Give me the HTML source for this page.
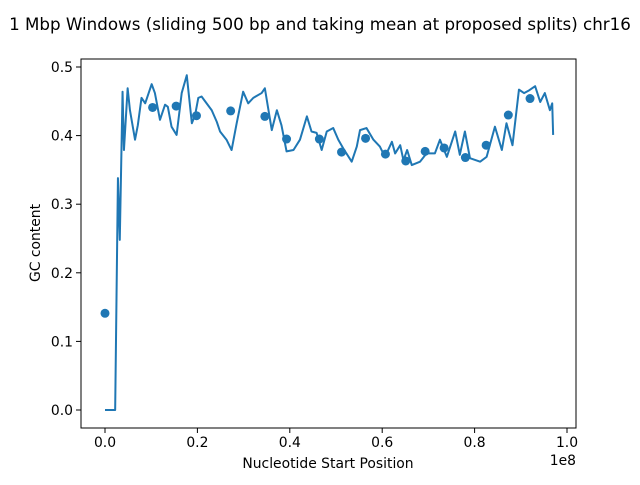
<!DOCTYPE html>
<html><head><meta charset="utf-8"><style>
body{margin:0;background:#fff;font-family:"Liberation Sans","DejaVu Sans",sans-serif}
text{font-family:"DejaVu Sans","Liberation Sans",sans-serif}
</style></head><body>
<svg id="chart" width="640" height="480" viewBox="0 0 640 480" xmlns="http://www.w3.org/2000/svg">
<rect width="640" height="480" fill="#fff"/>
<text x="320" y="30" font-size="16.7" text-anchor="middle">1 Mbp Windows (sliding 500 bp and taking mean at proposed splits) chr16</text>
<g id="plot"></g>
<rect x="81" y="59" width="495" height="369" fill="none" stroke="#000" stroke-width="1"/>
<text x="328" y="468" font-size="13.9" text-anchor="middle">Nucleotide Start Position</text>
<text x="576" y="465" font-size="13.9" text-anchor="end">1e8</text>
<text transform="translate(40,243) rotate(-90)" font-size="13.9" text-anchor="middle">GC content</text>
</svg>
<script>
const lineX=[0,2.2,2.8,3.2,3.8,4.1,4.9,5.4,6.5,7.1,7.9,8.7,10.1,10.8,11.9,13.0,13.6,14.4,15.5,16.6,17.7,18.8,19.5,20.2,20.9,22.0,23.1,24.2,24.9,26.3,27.4,28.5,29.9,31.0,32.1,33.9,34.6,36.1,37.2,38.2,39.3,40.8,42.2,43.7,44.7,45.8,46.9,48.0,49.4,50.5,51.6,53.4,54.5,55.2,56.6,58.1,59.5,60.6,62.1,62.8,63.9,64.6,65.4,66.4,68.2,69.6,71.4,72.5,74.0,75.8,76.8,77.9,79.0,81.2,82.6,84.4,85.9,86.9,88.2,89.6,90.7,91.8,93.1,94.2,95.2,96.3,96.8,97.0];
const lineY=[0,0,0.338,0.248,0.464,0.379,0.469,0.437,0.394,0.415,0.455,0.447,0.475,0.462,0.423,0.445,0.442,0.413,0.401,0.462,0.488,0.418,0.430,0.455,0.457,0.447,0.437,0.420,0.406,0.394,0.379,0.418,0.464,0.447,0.455,0.462,0.469,0.408,0.437,0.415,0.377,0.379,0.394,0.428,0.406,0.404,0.379,0.406,0.411,0.394,0.381,0.362,0.384,0.408,0.411,0.394,0.384,0.369,0.391,0.374,0.386,0.364,0.379,0.357,0.362,0.374,0.374,0.394,0.369,0.406,0.372,0.406,0.367,0.362,0.369,0.413,0.379,0.418,0.386,0.467,0.462,0.466,0.472,0.449,0.462,0.437,0.447,0.401];
const dotX=[0,10.3,15.4,19.8,27.2,34.6,39.3,46.4,51.2,56.4,60.7,65.1,69.3,73.4,78.0,82.5,87.3,92.0];
const dotY=[0.141,0.441,0.443,0.429,0.436,0.428,0.395,0.395,0.376,0.396,0.373,0.363,0.377,0.382,0.368,0.386,0.430,0.454];
const xTicks=[0,20,40,60,80,100];
const xTickLabels=["0.0","0.2","0.4","0.6","0.8","1.0"];
const yTicks=[0,0.1,0.2,0.3,0.4,0.5];
const yTickLabels=["0.0","0.1","0.2","0.3","0.4","0.5"];
const NS="http://www.w3.org/2000/svg";
const sx=v=>105+v*4.62, sy=v=>410-v*686;
const g=document.getElementById('plot');
function mk(t,a){const e=document.createElementNS(NS,t);for(const k in a)e.setAttribute(k,a[k]);g.appendChild(e);return e;}
xTicks.forEach((t,i)=>{
 const l=mk('line',{x1:sx(t),x2:sx(t),y1:428,y2:433,stroke:'#000'});
 
 
 const tx=mk('text',{x:sx(t),y:447,'font-size':13.9,'text-anchor':'middle'});tx.textContent=xTickLabels[i];
 
 
});
yTicks.forEach((t,i)=>{
 const l=mk('line',{x1:76,x2:81,y1:sy(t),y2:sy(t),stroke:'#000'});
 
 
 const tx=mk('text',{x:73,y:sy(t)+5,'font-size':13.9,'text-anchor':'end'});tx.textContent=yTickLabels[i];
 
 
});
const p=mk('polyline',{points:lineX.map((x,i)=>sx(x)+','+sy(lineY[i])).join(' '),fill:'none',stroke:'#1f77b4','stroke-width':2,'stroke-linejoin':'round'});


dotX.forEach((x,i)=>{
 const c=mk('circle',{cx:sx(x),cy:sy(dotY[i]),r:4.5,fill:'#1f77b4'});
 
 
});
</script>
</body></html>
